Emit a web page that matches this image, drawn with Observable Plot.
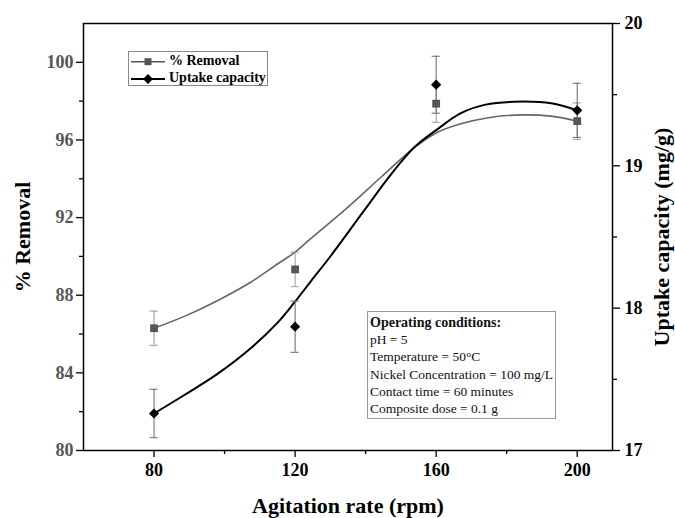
<!DOCTYPE html>
<html>
<head>
<meta charset="utf-8">
<script src="https://cdn.jsdelivr.net/npm/d3@7"></script>
<script src="https://cdn.jsdelivr.net/npm/@observablehq/plot@0.6"></script>
<style>
  html, body { margin: 0; padding: 0; background: #fff; }
  #wrap { position: relative; width: 675px; height: 518px; }
  #wrap svg.overlay { position: absolute; left: 0; top: 0; pointer-events: none; }
</style>
</head>
<body>
<div id="wrap"></div>
<script>
// ---- data ----
const rpm = [80, 120, 160, 200];
const removal = [86.3, 89.33, 97.87, 96.97];
const removalErr = [0.88, 0.89, 0.96, 0.94];
const uptake = [17.26, 17.87, 19.57, 19.39];
const uptakeErr = [0.17, 0.18, 0.2, 0.19];

// fitted curves
const removalFitX = [80, 88.6, 98.1, 107.5, 115.1, 120, 124, 135, 144.4, 153.8, 160.5, 167, 174, 182, 192.6, 200];
const removalFitY = [86.3, 86.91, 87.73, 88.68, 89.62, 90.22, 90.85, 92.54, 94.09, 95.6, 96.41, 96.84, 97.12, 97.28, 97.23, 96.97];
const uptakeFitX = [80, 88.6, 98.1, 107.5, 115.1, 119.8, 124.5, 130.2, 139.7, 147.2, 153.8, 160.5, 167, 174, 182, 192.6, 200];
const uptakeFitY = [17.26, 17.39, 17.54, 17.72, 17.9, 18.04, 18.19, 18.37, 18.69, 18.94, 19.13, 19.26, 19.37, 19.43, 19.45, 19.44, 19.39];

// ticks
const xTicks = [80, 120, 160, 200];
const xMinor = [100, 140, 180];
const leftTicks = [80, 84, 88, 92, 96, 100];
const leftMinor = [82, 86, 90, 94, 98];
const rightTicks = [17, 18, 19, 20];
const rightMinor = [17.5, 18.5, 19.5];

const leftDomain = [80, 102];
const rightDomain = [17, 20];
const toLeft = u => leftDomain[0] + (u - rightDomain[0]) * (leftDomain[1] - leftDomain[0]) / (rightDomain[1] - rightDomain[0]);
const fromLeft = v => rightDomain[0] + (v - leftDomain[0]) * (rightDomain[1] - rightDomain[0]) / (leftDomain[1] - leftDomain[0]);

const pts = rpm.map((x, i) => ({x, r: removal[i], re: removalErr[i], u: toLeft(uptake[i]), ue: uptakeErr[i] * (leftDomain[1]-leftDomain[0])/(rightDomain[1]-rightDomain[0])}));
const remFit = removalFitX.map((x, i) => ({x, y: removalFitY[i]}));
const upFit = uptakeFitX.map((x, i) => ({x, y: toLeft(uptakeFitY[i])}));

const font = "Liberation Serif, Times New Roman, serif";
const cap = 1.15;

const chart = Plot.plot({
  width: 675, height: 518,
  marginLeft: 83, marginRight: 63, marginTop: 23, marginBottom: 68,
  x: {domain: [60, 210]},
  y: {domain: leftDomain},
  style: {fontFamily: font, background: "white"},
  marks: [
    Plot.line(remFit, {x: "x", y: "y", stroke: "#666", strokeWidth: 1.6, curve: "catmull-rom"}),
    Plot.line(upFit, {x: "x", y: "y", stroke: "#000", strokeWidth: 2, curve: "catmull-rom"}),
    // error bars removal
    Plot.ruleX(pts, {x: "x", y1: d => d.r - d.re, y2: d => d.r + d.re, stroke: "#999", strokeWidth: 1}),
    Plot.ruleY(pts, {y: d => d.r - d.re, x1: d => d.x - cap, x2: d => d.x + cap, stroke: "#999", strokeWidth: 1}),
    Plot.ruleY(pts, {y: d => d.r + d.re, x1: d => d.x - cap, x2: d => d.x + cap, stroke: "#999", strokeWidth: 1}),
    // error bars uptake
    Plot.ruleX(pts, {x: "x", y1: d => d.u - d.ue, y2: d => d.u + d.ue, stroke: "#666", strokeWidth: 1}),
    Plot.ruleY(pts, {y: d => d.u - d.ue, x1: d => d.x - cap, x2: d => d.x + cap, stroke: "#666", strokeWidth: 1}),
    Plot.ruleY(pts, {y: d => d.u + d.ue, x1: d => d.x - cap, x2: d => d.x + cap, stroke: "#666", strokeWidth: 1}),
    // markers
    Plot.dot(pts, {x: "x", y: "r", symbol: "square", r: 4.4, fill: "#555", stroke: "none"}),
    Plot.dot(pts, {x: "x", y: "u", symbol: "diamond2", r: 4.6, fill: "#000", stroke: "none"}),
    Plot.frame({stroke: "#000", strokeWidth: 1.5}),
    // bottom axis
    Plot.axisX(xTicks, {anchor: "bottom", tickSize: 7, tickPadding: 6, fontSize: 18, fontWeight: "bold", fill: "#000", strokeWidth: 1.3, label: null, tickFormat: d => String(d)}),
    Plot.axisX(xMinor, {anchor: "bottom", tickSize: 4, strokeWidth: 1.3, tickFormat: null, label: null, text: null}),
    // left axis
    Plot.axisY(leftTicks, {anchor: "left", tickSize: 7, tickPadding: 3, fontSize: 18, fontWeight: "bold", fill: "#555", strokeWidth: 1.3, label: null, tickFormat: d => String(d)}),
    Plot.axisY(leftMinor, {anchor: "left", tickSize: 4, strokeWidth: 1.3, label: null, text: null}),
    // right axis
    Plot.axisY(rightTicks.map(toLeft), {anchor: "right", tickSize: 7, tickPadding: 5, fontSize: 18, fontWeight: "bold", fill: "#000", strokeWidth: 1.3, label: null, tickFormat: v => String(Math.round(fromLeft(v)))}),
    Plot.axisY(rightMinor.map(toLeft), {anchor: "right", tickSize: 4, strokeWidth: 1.3, label: null, text: null}),
    // titles
    Plot.text(["Agitation rate (rpm)"], {frameAnchor: "bottom", dy: 55, textAnchor: "middle", lineAnchor: "middle", fontSize: 22, fontWeight: "bold", fill: "#000"}),
    Plot.text(["% Removal"], {frameAnchor: "left", dx: -61, rotate: -90, textAnchor: "middle", lineAnchor: "middle", fontSize: 22, fontWeight: "bold", fill: "#000"}),
    Plot.text(["Uptake capacity (mg/g)"], {frameAnchor: "right", dx: 49, rotate: -90, textAnchor: "middle", lineAnchor: "middle", fontSize: 22, fontWeight: "bold", fill: "#000"})
  ]
});

const wrap = document.getElementById("wrap");
wrap.appendChild(chart);

// legend and conditions box overlay
const ns = "http://www.w3.org/2000/svg";
const ov = document.createElementNS(ns, "svg");
ov.setAttribute("class", "overlay");
ov.setAttribute("width", 675);
ov.setAttribute("height", 518);
const conditions = ["Operating conditions:", "pH = 5", "Temperature = 50°C", "Nickel Concentration = 100 mg/L", "Contact time = 60 minutes", "Composite dose = 0.1 g"];
ov.innerHTML = `
  <g font-family="${font}">
    <rect x="128.5" y="51.5" width="139" height="34" fill="white" stroke="#888" stroke-width="1"/>
    <line x1="131" x2="165" y1="61.7" y2="61.7" stroke="#555" stroke-width="1.5"/>
    <rect x="144.5" y="58.2" width="7" height="7" fill="#555"/>
    <text x="169" y="61.7" dominant-baseline="middle" font-size="14" font-weight="bold" fill="#000">% Removal</text>
    <line x1="131" x2="165" y1="79" y2="79" stroke="#000" stroke-width="2"/>
    <path d="M148,74 L153,79 L148,84 L143,79 Z" fill="#000"/>
    <text x="169" y="79" dominant-baseline="middle" font-size="14" font-weight="bold" fill="#000">Uptake capacity</text>
    <rect x="367.5" y="311.5" width="188" height="107" fill="white" stroke="#999" stroke-width="1"/>
    ${conditions.map((t, i) => `<text x="370" y="${324 + i * 17.2}" dominant-baseline="middle" font-size="${i === 0 ? 14 : 13.5}" font-weight="${i === 0 ? "bold" : "normal"}" fill="#111">${t}</text>`).join("")}
  </g>`;
wrap.appendChild(ov);
</script>
</body>
</html>
